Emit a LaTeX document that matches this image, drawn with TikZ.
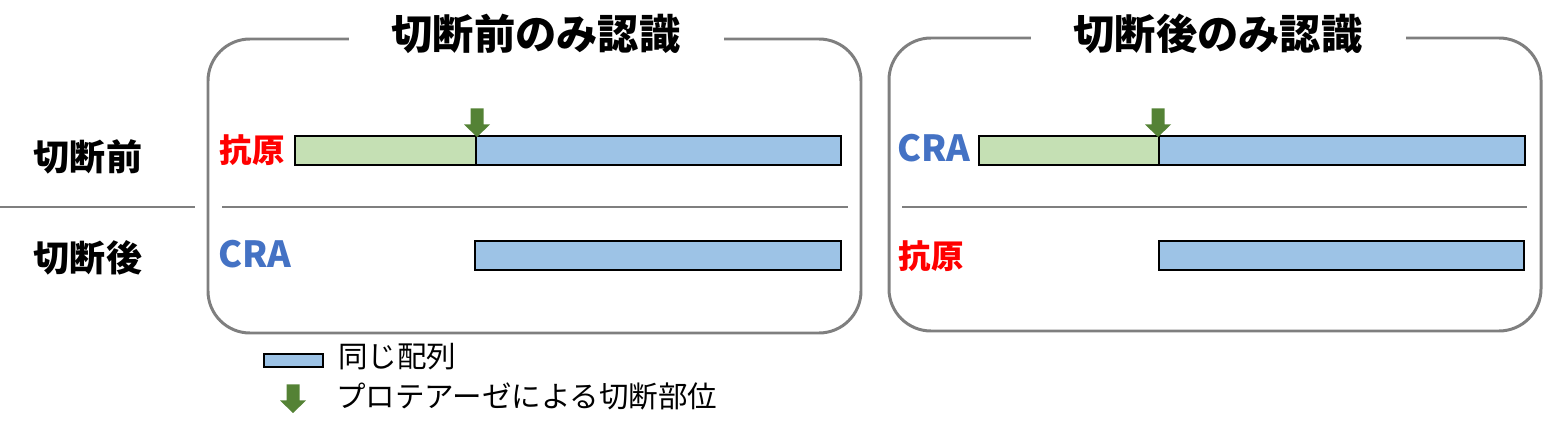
\documentclass[tikz,border=0pt]{standalone}
\usepackage{fontspec}
\setmainfont{Noto Sans CJK JP}
\usepackage{tikz}
\usetikzlibrary{positioning, calc}
\definecolor{framegray}{RGB}{127, 127, 127}
\definecolor{seqblue}{RGB}{157, 195, 230}
\definecolor{seqgreen}{RGB}{197, 224, 180}
\definecolor{cutgreen}{RGB}{84, 130, 53}
\definecolor{crablue}{RGB}{68, 114, 196}
\definecolor{agred}{RGB}{255, 0, 0}

\begin{document}
\begin{tikzpicture}[x=0.02cm, y=-0.02cm]
  \tikzset{
    panel/.style={line width=1.7pt, framegray, rounded corners=0.84cm},
    sepline/.style={line width=1.6pt, framegray},
    bar/.style={line width=1.1pt, black},
    title/.style={font=\fontsize{23.5}{26}\selectfont\bfseries, fill=white, inner xsep=0.86cm, inner ysep=0pt},
    rowlabel/.style={font=\fontsize{20.5}{24}\selectfont\bfseries},
    molname/.style={font=\fontsize{18.5}{22}\selectfont\bfseries},
    craname/.style={font=\fontsize{20.5}{24}\selectfont\bfseries, crablue},
    legendtext/.style={font=\fontsize{16.8}{20}\selectfont, anchor=west}
  }
  \useasboundingbox (0,0) rectangle (1543,435);

  % Protease cut marker (block arrow, tip at #1)
  \newcommand{\cutmark}[1]{%
    \fill[cutgreen] ($#1+(-6.5,-28.5)$) -- ($#1+(6.5,-28.5)$) -- ($#1+(6.5,-12.5)$)
      -- ($#1+(13,-12.5)$) -- #1 -- ($#1+(-13,-12.5)$) -- ($#1+(-6.5,-12.5)$) -- cycle;}

  % Row labels
  \node[rowlabel] (before) at (88, 157) {切断前};
  \node[rowlabel] (after) at (88, 258) {切断後};
  \draw[sepline] (0, 207) -- (195, 207);

  % Left panel: recognizes only before cleavage
  \draw[panel] (208, 39) rectangle (861, 333);
  \node[title] (titleL) at (536, 34) {切断前のみ認識};
  \draw[sepline] (222, 207) -- (848, 207);
  \node[molname, agred] (agL) at (252, 150) {抗原};
  \node[craname] (craL) at (255, 254) {CRA};
  \filldraw[bar, fill=seqgreen] (295, 136) rectangle (476, 165);
  \filldraw[bar, fill=seqblue] (476, 136) rectangle (841, 165);
  \filldraw[bar, fill=seqblue] (475, 241) rectangle (841, 270);
  \cutmark{(477, 137)}

  % Right panel: recognizes only after cleavage
  \draw[panel] (889, 38) rectangle (1541, 331);
  \node[title] (titleR) at (1218, 34) {切断後のみ認識};
  \draw[sepline] (902, 207) -- (1527, 207);
  \node[craname] (craR) at (934, 148) {CRA};
  \node[molname, agred] (agR) at (931, 256) {抗原};
  \filldraw[bar, fill=seqgreen] (979, 136) rectangle (1159, 165);
  \filldraw[bar, fill=seqblue] (1159, 136) rectangle (1525, 165);
  \filldraw[bar, fill=seqblue] (1159, 241) rectangle (1524, 270);
  \cutmark{(1158, 137)}

  % Legend
  \filldraw[bar, fill=seqblue] (264, 354) rectangle (323, 367);
  \node[legendtext] (legSeq) at (332, 357) {同じ配列};
  \cutmark{(293, 413)}
  \node[legendtext] (legCut) at (330, 396) {プロテアーゼによる切断部位};
\end{tikzpicture}
\end{document}
